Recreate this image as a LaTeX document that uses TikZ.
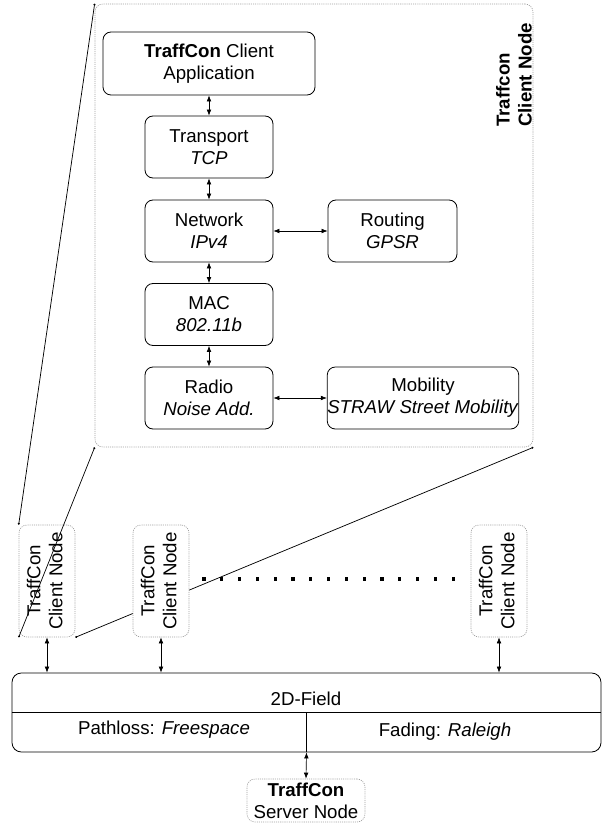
\documentclass[tikz,border=0pt]{standalone}
\usepackage{fontspec}
\setmainfont{Liberation Sans}
\usetikzlibrary{arrows.meta}

\tikzset{
  layer/.style={draw, line width=0.6pt, rounded corners=6pt, inner sep=0pt, align=center,
    minimum width=96pt, minimum height=46.5pt},
  nodebox/.style={draw=gray!75, dash pattern=on 0.8pt off 0.8pt, line width=0.5pt,
    rounded corners=6pt, inner sep=0pt, align=center},
  link/.style={{Latex[length=4.5pt,width=3.5pt]}-{Latex[length=4.5pt,width=3.5pt]}, line width=0.5pt},
  zoomline/.style={{Circle[length=1.5pt]}-{Circle[length=1.5pt]}, line width=0.55pt},
}

\newcommand{\clientlabel}{\rotatebox{90}{\begin{tabular}{@{}c@{}}TraffCon\\Client Node\end{tabular}}}

\begin{document}
\begin{tikzpicture}[x=0.75pt,y=-0.75pt,font=\fontsize{14}{16.5}\selectfont]
    \useasboundingbox (0,0) rectangle (610,827);

    % Draw the zoomed client node
    \node[nodebox, minimum width=328.5pt, minimum height=332.25pt] (bignode) at (314,225.5) {};
    \node[rotate=90, anchor=south west, align=left, inner sep=0pt, font=\fontsize{14}{16.5}\selectfont\bfseries]
        (biglabel) at (532,127) {Traffcon\\Client Node};

    % Draw the protocol layers
    \node[layer, minimum width=159pt, minimum height=47.25pt] (app) at (209,63.5) {\textbf{TraffCon} Client\\Application};
    \node[layer] (transport) at (209,147) {Transport\\\textit{TCP}};
    \node[layer] (network) at (209,231) {Network\\\textit{IPv4}};
    \node[layer, minimum width=96.75pt] (routing) at (392.5,231) {Routing\\\textit{GPSR}};
    \node[layer] (mac) at (209,314.5) {MAC\\\textit{802.11b}};
    \node[layer] (radio) at (209,398) {Radio\\\textit{Noise Add.}};
    \node[layer, minimum width=142.5pt] (mobility) at (423,398) {Mobility\\\textit{STRAW Street Mobility}};

    \draw[link] (app) -- (transport);
    \draw[link] (transport) -- (network);
    \draw[link] (network) -- (mac);
    \draw[link] (mac) -- (radio);
    \draw[link] (network) -- (routing);
    \draw[link] (radio) -- (mobility);

    % Draw the client nodes
    \node[nodebox, minimum width=42pt, minimum height=84pt] (client1) at (47,581) {\clientlabel};

    % Draw the zoom lines
    \draw[zoomline] (bignode.north west) -- (client1.north west);
    \draw[zoomline] (bignode.south west) -- (client1.south west);
    \draw[zoomline] (bignode.south east) -- (client1.south east);

    \node[nodebox, fill=white, minimum width=42pt, minimum height=84pt] (client2) at (161,581) {\clientlabel};
    \node[nodebox, minimum width=42pt, minimum height=84pt] (client3) at (499,581) {\clientlabel};

    \foreach \i in {0,...,14}
        \fill (204+\i*17.8,579) +(-1.6,-1.6) rectangle +(1.6,1.6);

    % Draw the field
    \node[draw, line width=0.6pt, rounded corners=7pt, minimum width=441.75pt, minimum height=59.25pt] (field) at (306.5,712.5) {};
    \draw[line width=0.6pt] (field.west) -- (field.east);
    \draw[line width=0.6pt] (field.center) -- (field.south);
    \node (fieldname) at (306,699) {2D-Field};
    \node (pathloss) at (164,730) {Pathloss: \textit{Freespace}};
    \node (fading) at (445,732) {Fading: \textit{Raleigh}};

    \draw[link] (client1.south) -- (client1.south |- field.north);
    \draw[link] (client2.south) -- (client2.south |- field.north);
    \draw[link] (client3.south) -- (client3.south |- field.north);

    % Draw the server node
    \node[nodebox, minimum width=88.5pt, minimum height=32.25pt] (server) at (306,800.5)
        {\textbf{TraffCon}\\Server Node};
    \draw[link] (field.south) -- (server.north);
\end{tikzpicture}
\end{document}
